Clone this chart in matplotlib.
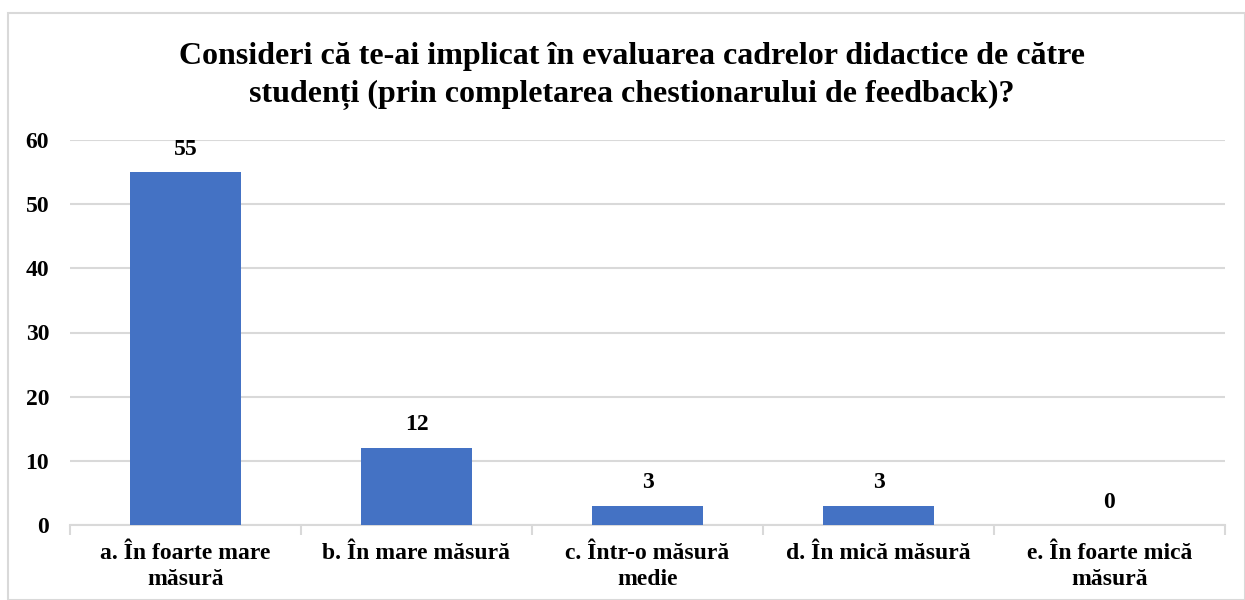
import matplotlib
matplotlib.use("Agg")
import matplotlib.pyplot as plt
from matplotlib.patches import Rectangle

categories = ["a. În foarte mare\nmăsură", "b. În mare măsură", "c. Într-o măsură\nmedie",
              "d. În mică măsură", "e. În foarte mică\nmăsură"]
values = [55, 12, 3, 3, 0]
yticks = [0, 10, 20, 30, 40, 50, 60]
title = "Consideri că te-ai implicat în evaluarea cadrelor didactice de către\nstudenți (prin completarea chestionarului de feedback)?"

plt.rcParams['font.family'] = ['Liberation Serif', 'DejaVu Serif']
W, H = 1245, 600
fig = plt.figure(figsize=(W/100, H/100), dpi=100)
fig.patches.append(Rectangle((8/W, 0), (W-8)/W, (H-13)/H, transform=fig.transFigure,
                             fill=False, edgecolor='#d9d9d9', linewidth=1.5))

ax = fig.add_axes([70/W, 1-525/H, (1225-70)/W, (525-140)/H])
x = list(range(len(categories)))
bars = ax.bar(x, values, width=0.48, color='#4472C4', zorder=3)
ax.set_xlim(-0.5, len(categories)-0.5)
ax.set_ylim(0, 60)
ax.set_yticks(yticks)
ax.set_yticklabels([str(t) for t in yticks], fontsize=17, fontweight='bold')
ax.yaxis.grid(True, color='#d9d9d9', linewidth=1.5, zorder=0)
ax.tick_params(axis='y', length=0, pad=15)
ax.set_xticks(x)
ax.set_xticklabels(categories, fontsize=17, fontweight='bold', linespacing=1.3)
ax.tick_params(axis='x', length=0, pad=13)
# boundary tick marks
ax.set_xticks([i-0.5 for i in range(len(categories)+1)], minor=True)
ax.tick_params(axis='x', which='minor', length=7, color='#d9d9d9', width=1.5)
for s in ['top', 'right', 'left']:
    ax.spines[s].set_visible(False)
ax.spines['bottom'].set_color('#d9d9d9')
ax.spines['bottom'].set_linewidth(1.5)

for xi, v in zip(x, values):
    ax.annotate(str(v), (xi, v), xytext=(0, 9), textcoords='offset points',
                ha='center', va='bottom', fontsize=17, fontweight='bold')

fig.text(632/W, 1-76/H, title, ha='center', va='center', fontsize=23, fontweight='bold',
         linespacing=1.4)

fig.savefig("out.png", dpi=100)
